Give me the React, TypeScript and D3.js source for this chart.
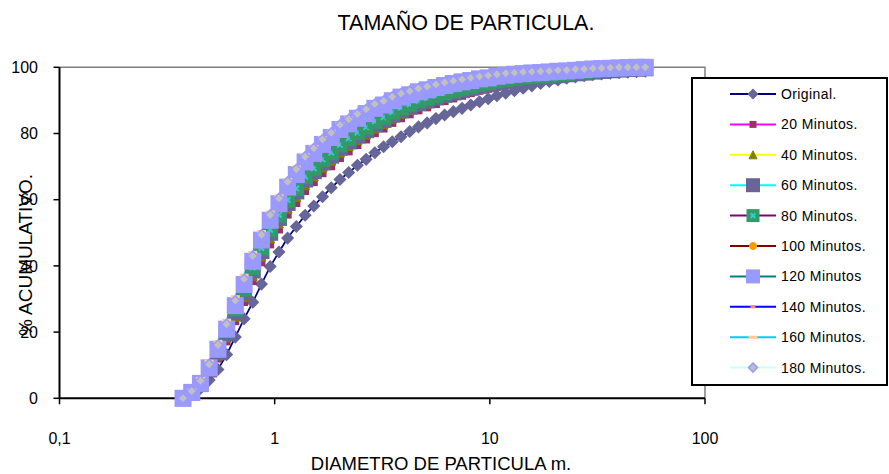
import * as d3 from "d3";

// particle size channels (µm)
const diameters = [
  0.375, 0.412, 0.452, 0.496, 0.545, 0.598, 0.656, 0.721, 0.791, 0.868,
  0.953, 1.047, 1.149, 1.261, 1.385, 1.52, 1.669, 1.832, 2.011, 2.208,
  2.424, 2.661, 2.921, 3.207, 3.521, 3.865, 4.243, 4.659, 5.114, 5.615,
  6.164, 6.767, 7.429, 8.156, 8.954, 9.83, 10.79, 11.85, 13.01, 14.28,
  15.68, 17.21, 18.89, 20.74, 22.77, 25.0, 27.45, 30.13, 33.08, 36.32,
  39.87, 43.77, 48.06, 52.76,
];

const original = [
  0, 1.2, 3, 5.5, 8.7, 13.2, 18.5, 24, 29, 34.5,
  39.8, 44.2, 48.4, 51.9, 55.3, 58.1, 60.9, 63.6, 66.1, 68.2,
  70.4, 72.2, 74.2, 76, 77.5, 79, 80.6, 82, 83.2, 84.5,
  85.6, 86.6, 87.6, 88.6, 89.6, 90.5, 91.4, 92.2, 92.9, 93.7,
  94.4, 95.1, 95.7, 96.2, 96.7, 97.1, 97.5, 97.8, 98, 98.2,
  98.4, 98.5, 98.7, 98.8,
];
const min20 = [
  0, 1.3, 3.5, 7.3, 12, 17.2, 23.3, 29.1, 35.4, 41.1,
  46.5, 51, 55.5, 59, 62.6, 65.3, 68, 70.1, 72.6, 74.6,
  76.5, 78.2, 80.1, 81.5, 83.2, 84.6, 85.8, 87, 87.9, 88.9,
  89.8, 90.6, 91.4, 92.2, 92.9, 93.5, 94.1, 94.7, 95.2, 95.6,
  96, 96.3, 96.6, 96.9, 97.3, 97.7, 98, 98.3, 98.6, 98.8,
  99, 99.2, 99.4, 99.5,
];
const min40 = [
  0, 1.5, 3.9, 8, 12.9, 18.4, 24.7, 30.6, 37, 42.8,
  48.3, 52.8, 57.3, 60.8, 64.4, 67, 69.7, 71.8, 74.2, 76.2,
  78, 79.7, 81.5, 82.9, 84.5, 85.9, 87, 88.2, 89, 90,
  90.8, 91.6, 92.3, 93, 93.7, 94.2, 94.8, 95.3, 95.7, 96.1,
  96.4, 96.7, 96.9, 97.2, 97.5, 97.9, 98.1, 98.4, 98.7, 98.9,
  99.1, 99.3, 99.5, 99.6,
];
const min60 = [
  0, 1.7, 4.3, 8.7, 13.9, 19.6, 26.1, 32.1, 38.6, 44.5,
  50, 54.5, 59, 62.5, 66.1, 68.6, 71.3, 73.3, 75.7, 77.6,
  79.4, 81, 82.8, 84.1, 85.7, 87, 88.1, 89.2, 90, 90.9,
  91.7, 92.4, 93.1, 93.8, 94.4, 94.9, 95.4, 95.9, 96.3, 96.6,
  96.9, 97.1, 97.3, 97.6, 97.9, 98.2, 98.4, 98.7, 98.9, 99.1,
  99.3, 99.5, 99.6, 99.7,
];
const min80 = [
  0, 1.9, 4.7, 9.3, 14.6, 20.4, 27, 33, 39.5, 45.4,
  50.9, 55.4, 59.9, 63.4, 67, 69.5, 72.2, 74.2, 76.6, 78.5,
  80.3, 81.9, 83.7, 84.9, 86.5, 87.8, 88.8, 89.9, 90.7, 91.5,
  92.3, 93, 93.7, 94.3, 94.9, 95.4, 95.9, 96.3, 96.7, 97,
  97.2, 97.4, 97.6, 97.9, 98.1, 98.4, 98.6, 98.9, 99.1, 99.3,
  99.5, 99.6, 99.7, 99.8,
];
const min100 = [
  0, 1.6, 4.2, 8.8, 14.2, 20.2, 27.2, 33.6, 40.6, 47,
  53, 58, 63, 66.9, 70.7, 73.3, 76, 78.1, 80.5, 82.3,
  84, 85.4, 87, 88.1, 89.4, 90.5, 91.3, 92.2, 92.8, 93.5,
  94.1, 94.7, 95.2, 95.7, 96.2, 96.5, 97, 97.3, 97.6, 97.9,
  98.1, 98.2, 98.4, 98.6, 98.8, 99, 99.2, 99.4, 99.5, 99.6,
  99.7, 99.8, 99.9, 100,
];
const min120 = [
  0, 1.8, 4.5, 9.2, 14.8, 20.9, 28, 34.4, 41.4, 47.8,
  53.8, 58.8, 63.8, 67.6, 71.4, 74, 76.7, 78.8, 81.2, 82.9,
  84.6, 86, 87.6, 88.6, 89.9, 91, 91.7, 92.6, 93.2, 93.9,
  94.5, 95.1, 95.6, 96, 96.5, 96.8, 97.3, 97.6, 97.9, 98.1,
  98.3, 98.4, 98.6, 98.8, 98.9, 99.1, 99.3, 99.5, 99.6, 99.7,
  99.8, 99.9, 100, 100,
];
const min140 = [
  0, 2.1, 5.2, 10.1, 15.9, 22.2, 29.3, 35.8, 42.8, 49.2,
  55.2, 60.2, 65.2, 69, 72.8, 75.3, 78, 80, 82.4, 84.1,
  85.7, 87.1, 88.7, 89.6, 90.9, 91.9, 92.6, 93.4, 94, 94.6,
  95.2, 95.7, 96.2, 96.6, 97, 97.3, 97.7, 98, 98.2, 98.4,
  98.5, 98.6, 98.8, 99, 99.1, 99.3, 99.4, 99.6, 99.7, 99.8,
  99.9, 100, 100, 100,
];
const min160 = [
  0, 2.6, 6, 11.2, 17.2, 23.6, 30.7, 37.2, 44.1, 50.4,
  56.3, 61.2, 66.1, 69.9, 73.6, 76.1, 78.7, 80.7, 83, 84.7,
  86.2, 87.6, 89.1, 90, 91.3, 92.3, 93, 93.8, 94.4, 95,
  95.6, 96.1, 96.6, 97, 97.4, 97.7, 98.1, 98.4, 98.6, 98.8,
  98.9, 99, 99.1, 99.3, 99.4, 99.5, 99.6, 99.8, 99.9, 100,
  100, 100, 100, 100,
];
const min180 = [
  0, 2.2, 5.3, 10.3, 16.1, 22.4, 29.5, 36, 43, 49.4,
  55.4, 60.4, 65.4, 69.2, 73, 75.5, 78.2, 80.2, 82.6, 84.3,
  85.9, 87.3, 88.9, 89.8, 91.1, 92.1, 92.8, 93.6, 94.2, 94.8,
  95.4, 95.9, 96.4, 96.8, 97.2, 97.5, 97.9, 98.2, 98.4, 98.6,
  98.7, 98.8, 98.9, 99.1, 99.2, 99.4, 99.5, 99.7, 99.8, 99.9,
  100, 100, 100, 100,
];

const seriesNames = [
  "Original.", "20 Minutos.", "40 Minutos.", "60 Minutos.", "80 Minutos.",
  "100 Minutos.", "120 Minutos", "140 Minutos.", "160 Minutos.", "180 Minutos.",
];
const seriesValues = [original, min20, min40, min60, min80, min100, min120, min140, min160, min180];

const yTicks = [0, 20, 40, 60, 80, 100];
const xTicks = [0.1, 1, 10, 100];
const xTickLabels = ["0,1", "1", "10", "100"];

// excel-ish marker styles, one per series
const styles = [
  { line: "#000080", shape: "diamond", size: 11, lsize: 9, fill: "#666699", stroke: "#666699" },
  { line: "#FF00FF", shape: "square", size: 8, lsize: 7, fill: "#993366", stroke: "#993366" },
  { line: "#FFFF00", shape: "triangle", size: 9, lsize: 8, fill: "#808000", stroke: "#808000" },
  { line: "#00FFFF", shape: "square", size: 16, lsize: 14, fill: "#666699", stroke: "#666699" },
  { line: "#800080", shape: "squarex", size: 15, lsize: 13, fill: "#339966", stroke: "#339966" },
  { line: "#800000", shape: "circle", size: 7, lsize: 7, fill: "#FF9900", stroke: "#FF9900" },
  { line: "#008080", shape: "square", size: 17, lsize: 14, fill: "#9999FF", stroke: "#9999FF" },
  { line: "#0000FF", shape: "dash", size: 5, lsize: 5, fill: "#FF8080", stroke: "none" },
  { line: "#00CCFF", shape: "dash", size: 9, lsize: 9, fill: "#FFCC99", stroke: "none" },
  { line: "#CCFFFF", shape: "diamond", size: 10, lsize: 9, fill: "#C0C0C0", stroke: "#9999FF" },
];

const W = 889;
const H = 474;
const left = 59.5;
const right = 705;
const top = 67.3;
const bottom = 398.3;
const font = "'Liberation Sans', Arial, sans-serif";

const x = d3.scaleLog().domain([0.1, 100]).range([left, right]);
const y = d3.scaleLinear().domain([0, 100]).range([bottom, top]);

function Marker({ st, cx, cy, s }: any) {
  const h = s / 2;
  if (st.shape === "diamond") {
    return (
      <path
        d={`M${cx},${cy - h}L${cx + h},${cy}L${cx},${cy + h}L${cx - h},${cy}Z`}
        fill={st.fill}
        stroke={st.stroke}
        strokeWidth={1.5}
      />
    );
  }
  if (st.shape === "triangle") {
    return (
      <path
        d={`M${cx},${cy - h}L${cx + h},${cy + h}L${cx - h},${cy + h}Z`}
        fill={st.fill}
        stroke={st.stroke}
        strokeWidth={1}
      />
    );
  }
  if (st.shape === "circle") {
    return <circle cx={cx} cy={cy} r={h} fill={st.fill} stroke={st.stroke} />;
  }
  if (st.shape === "dash") {
    return <rect x={cx - h} y={cy - 1.5} width={s} height={3} fill={st.fill} />;
  }
  if (st.shape === "squarex") {
    const k = s * 0.18;
    return (
      <g>
        <rect x={cx - h} y={cy - h} width={s} height={s} fill={st.fill} />
        <path
          d={`M${cx - k},${cy - k}L${cx + k},${cy + k}M${cx - k},${cy + k}L${cx + k},${cy - k}`}
          stroke="#33CCCC"
          strokeWidth={2}
        />
      </g>
    );
  }
  return <rect x={cx - h} y={cy - h} width={s} height={s} fill={st.fill} />;
}

export default function App() {
  const line = d3
    .line<number>()
    .x((_, i) => x(diameters[i]))
    .y((v) => y(v));

  return (
    <svg
      width={W}
      height={H}
      style={{ position: "absolute", left: 0, top: 0, background: "#fff" }}
      fontFamily={font}
    >
      <rect width={W} height={H} fill="#fff" />

      <text x={466} y={30} textAnchor="middle" fontSize={21.5}>
        TAMAÑO DE PARTICULA.
      </text>

      {/* plot area border (top / right) */}
      <path d={`M${left},${top}H${right}V${bottom}`} fill="none" stroke="#808080" strokeWidth={1.5} />

      {/* axes */}
      <line x1={left} x2={left} y1={top} y2={bottom} stroke="#000" strokeWidth={2} />
      <line x1={left} x2={right} y1={bottom} y2={bottom} stroke="#000" strokeWidth={2} />
      {yTicks.map((t) => (
        <g key={t}>
          <line x1={left - 6} x2={left} y1={y(t)} y2={y(t)} stroke="#000" strokeWidth={1.5} />
          <text x={38} y={y(t)} dy="0.36em" textAnchor="end" fontSize={16}>
            {t}
          </text>
        </g>
      ))}
      {xTicks.map((t, i) => (
        <g key={t}>
          <line x1={x(t)} x2={x(t)} y1={bottom} y2={bottom + 6} stroke="#000" strokeWidth={1.5} />
          <text x={x(t)} y={444} textAnchor="middle" fontSize={16}>
            {xTickLabels[i]}
          </text>
        </g>
      ))}

      <text x={441} y={470} textAnchor="middle" fontSize={18.5}>
        DIAMETRO DE PARTICULA m.
      </text>
      <text
        transform="translate(32,255) rotate(-90)"
        textAnchor="middle"
        fontSize={19}
      >
        % ACUMULATIVO.
      </text>

      {/* series lines first, then the markers on top */}
      {seriesValues.map((vals, si) => (
        <path key={si} d={line(vals) || ""} fill="none" stroke={styles[si].line} strokeWidth={1.75} />
      ))}
      {seriesValues.map((vals, si) => {
        const st = styles[si];
        return (
          <g key={si}>
            {vals.map((v, i) => (
              <Marker key={i} st={st} cx={x(diameters[i])} cy={y(v)} s={st.size} />
            ))}
          </g>
        );
      })}

      {/* legend */}
      <rect x={692} y={78} width={195} height={307} fill="#fff" stroke="#000" strokeWidth={2} />
      {seriesNames.map((name, i) => {
        const st = styles[i];
        const cy = 94 + i * 30.4;
        return (
          <g key={name}>
            <line x1={730} x2={776} y1={cy} y2={cy} stroke={st.line} strokeWidth={2} />
            <Marker st={st} cx={753} cy={cy} s={st.lsize} />
            <text x={781} y={cy} dy="0.36em" fontSize={14} letterSpacing={0.4}>
              {name}
            </text>
          </g>
        );
      })}
    </svg>
  );
}
